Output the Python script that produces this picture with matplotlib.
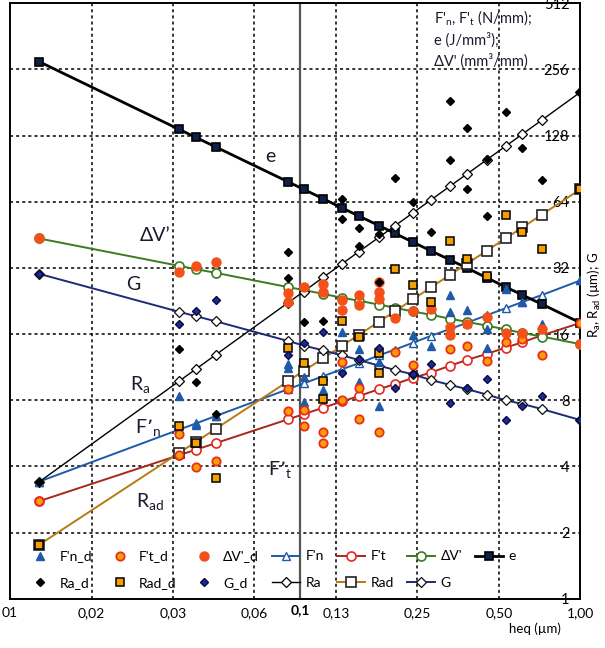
import matplotlib
matplotlib.use("Agg")
import matplotlib.pyplot as plt

plt.rcParams['font.family'] = ['Lato', 'DejaVu Sans']
plt.rcParams['mathtext.default'] = 'regular'

# x positions of the test points (heq, µm)
x_pts = [0.01, 0.033, 0.038, 0.045, 0.083, 0.095, 0.112, 0.132, 0.152, 0.18,
         0.206, 0.24, 0.28, 0.33, 0.38, 0.45, 0.53, 0.61, 0.72, 1.0]

# fitted curves
e_fit = [278, 136.5, 125.6, 113.6, 79.0, 72.9, 66.1, 59.9, 55.1, 49.9,
         46.0, 42.0, 38.3, 34.8, 32.0, 28.9, 26.2, 24.1, 21.9, 18.0]
dv_fit = [43.6, 32.7, 31.6, 30.4, 26.2, 25.4, 24.4, 23.4, 22.7, 21.8,
          21.1, 20.3, 19.6, 18.8, 18.2, 17.5, 16.8, 16.2, 15.6, 14.4]
g_fit = [30.1, 20.2, 19.3, 18.3, 14.9, 14.2, 13.5, 12.8, 12.2, 11.5,
         11.0, 10.5, 9.9, 9.4, 9.0, 8.5, 8.0, 7.7, 7.3, 6.5]
ra_fit = [3.4, 9.8, 11.1, 12.9, 22.2, 25.0, 29.0, 33.5, 38.0, 44.1,
          49.7, 56.9, 65.2, 75.5, 85.5, 99.3, 114.8, 130.0, 150.7, 202]
rad_fit = [1.76, 4.62, 5.18, 5.94, 9.75, 10.9, 12.4, 14.2, 15.9, 18.2,
           20.3, 23.0, 26.1, 29.8, 33.4, 38.3, 43.7, 48.9, 56.0, 73]
fn_fit = [3.41, 5.89, 6.28, 6.79, 8.98, 9.55, 10.3, 11.1, 11.8, 12.8,
          13.6, 14.6, 15.7, 16.9, 18.0, 19.5, 21.0, 22.4, 24.1, 28.1]
ft_fit = [2.78, 4.51, 4.77, 5.11, 6.55, 6.92, 7.40, 7.91, 8.37, 8.98,
          9.48, 10.1, 10.7, 11.5, 12.2, 13.0, 13.9, 14.7, 15.8, 18.0]

# measured points
ra_d_x = [0.01, 0.033, 0.038, 0.045, 0.083, 0.083, 0.095, 0.112, 0.132, 0.132, 0.152, 0.152, 0.18, 0.18,
          0.206, 0.24, 0.28, 0.33, 0.33, 0.38, 0.38, 0.45, 0.45, 0.53, 0.61, 0.72, 1.0]
ra_d_y = [3.4, 13.7, 9.7, 6.9, 37.9, 28.8, 18.1, 18.4, 66, 53.3, 48.4, 40.3, 45.6, 27.6,
          82.5, 64, 46.8, 184, 99, 139, 73, 55.3, 100, 164, 113, 80.4, 202]

rad_d_x = [0.01, 0.033, 0.038, 0.045, 0.083, 0.095, 0.112, 0.112, 0.132, 0.152, 0.18, 0.18,
           0.206, 0.24, 0.28, 0.33, 0.38, 0.45, 0.53, 0.61, 0.72, 1.0]
rad_d_y = [1.76, 6.1, 5.14, 3.53, 13.9, 11.8, 9.8, 8.1, 18.4, 15.5, 13.1, 10.7,
           31.8, 26.9, 22.5, 42.3, 35.3, 29.5, 55.6, 46.8, 39.2, 73]

g_d_y = [30.1, 17.7, 20.4, 22.8, 12.8, 14.6, 16.4, 10.7, 12.3, 13.8,
         9.1, 10.5, 11.7, 7.8, 9.1, 10.0, 6.5, 7.5, 8.4, 6.5]

fn_d_x = [0.01, 0.033, 0.038, 0.045, 0.083, 0.083, 0.095, 0.095, 0.112, 0.132, 0.152, 0.152, 0.18, 0.18,
          0.24, 0.28, 0.33, 0.33, 0.38, 0.45, 0.45, 0.53, 0.61, 0.72, 1.0]
fn_d_y = [3.4, 8.4, 6.2, 6.8, 11.7, 11.2, 10.2, 7.9, 8.9, 16.4, 13.7, 9.7, 7.5, 12.0,
          15.8, 14.1, 24.0, 20.1, 20.5, 16.9, 13.9, 25.8, 22.5, 17.8, 28.1]

ft_d_x = [0.01, 0.033, 0.033, 0.038, 0.045, 0.083, 0.083, 0.095, 0.095, 0.112, 0.112, 0.132, 0.132,
          0.152, 0.152, 0.18, 0.206, 0.24, 0.33, 0.38, 0.45, 0.53, 0.61, 0.72, 1.0]
ft_d_y = [2.78, 5.6, 4.53, 3.96, 4.23, 9.0, 7.15, 7.2, 6.1, 5.74, 5.1, 12.0, 8.0,
          9.1, 6.55, 5.74, 13.2, 11.6, 13.7, 14.2, 12.1, 14.7, 15.2, 12.8, 18.0]

dv_d_x = [0.01, 0.033, 0.038, 0.045, 0.083, 0.083, 0.095, 0.112, 0.112, 0.132, 0.132, 0.152, 0.152,
          0.18, 0.18, 0.18, 0.206, 0.24, 0.28, 0.33, 0.33, 0.38, 0.45, 0.53, 0.61, 0.72, 1.0]
dv_d_y = [43.6, 30.7, 32.8, 34.1, 24.5, 22.5, 26.2, 27.0, 25.0, 22.8, 20.5, 24.2, 21.8,
          27.6, 25.0, 23.2, 18.9, 20.3, 20.8, 17.2, 15.8, 17.8, 19.1, 16.2, 16.2, 16.9, 14.4]

x_ticks = [2 ** -7, 2 ** -6, 2 ** -5, 2 ** -4, 2 ** -3, 2 ** -2, 2 ** -1, 1]
x_labels = ['01', '0,02', '0,03', '0,06', '0,13', '0,25', '0,50', '1,00']
y_ticks = [1, 2, 4, 8, 16, 32, 64, 128, 256, 512]
x_ref = 0.092  # the "0,1" reference line

c_fn = '#1f5aa8'
c_ft = '#a8281c'
c_dv = '#3d7a1e'
c_g = '#1c2b78'
c_rad = '#b87a14'
txt_c = '#1a1a2e'

fig = plt.figure(figsize=(6.05, 6.48), dpi=100)
ax = fig.add_axes([10 / 605, 1 - 598.8 / 648, 570.5 / 605, 595.5 / 648])

ax.set_xscale('log', base=2)
ax.set_yscale('log', base=2)
ax.set_xlim(2 ** -7, 1)
ax.set_ylim(1, 512)

# grid
for xv in x_ticks[1:-1]:
    ax.axvline(xv, color='black', lw=1.1, ls=(0, (2, 2)), zorder=1)
for yv in y_ticks[1:-1]:
    ax.axhline(yv, color='black', lw=1.1, ls=(0, (2, 2)), zorder=1)
ax.axvline(x_ref, color='#555555', lw=1.6, zorder=1)

# fitted lines
h_fn, = ax.plot(x_pts, fn_fit, color=c_fn, lw=1.4, marker='^', ms=6, mfc='white', mec=c_fn, mew=1.0, zorder=3)
h_ft, = ax.plot(x_pts, ft_fit, color=c_ft, lw=1.4, marker='o', ms=6.5, mfc='white', mec='#e8261c', mew=1.2, zorder=3)
h_dv, = ax.plot(x_pts, dv_fit, color=c_dv, lw=1.4, marker='o', ms=6.5, mfc='white', mec=c_dv, mew=1.2, zorder=3)
h_e, = ax.plot(x_pts, e_fit, color='black', lw=2.0, marker='s', ms=5.5, mfc='#10204a', mec='black', mew=1.2, zorder=3)
h_ra, = ax.plot(x_pts, ra_fit, color='black', lw=1.0, marker='D', ms=5, mfc='white', mec='black', mew=0.9, zorder=3)
h_rad, = ax.plot(x_pts, rad_fit, color=c_rad, lw=1.4, marker='s', ms=7.5, mfc='white', mec='#222222', mew=1.2, zorder=3)
h_g, = ax.plot(x_pts, g_fit, color=c_g, lw=1.4, marker='D', ms=5, mfc='white', mec='#111111', mew=0.9, zorder=3)

# measured points
h_fn_d, = ax.plot(fn_d_x, fn_d_y, ls='none', marker='^', ms=5.5, color=c_fn, zorder=4)
h_ft_d, = ax.plot(ft_d_x, ft_d_y, ls='none', marker='o', ms=6, mfc='#f5a20a', mec='#ee2a1a', mew=1.3, zorder=4)
h_dv_d, = ax.plot(dv_d_x, dv_d_y, ls='none', marker='o', ms=6.5, mfc='#f4501a', mec='#f4501a', zorder=4)
h_ra_d, = ax.plot(ra_d_x, ra_d_y, ls='none', marker='D', ms=4.5, color='black', zorder=4)
h_rad_d, = ax.plot(rad_d_x, rad_d_y, ls='none', marker='s', ms=6, mfc='#f5a000', mec='black', mew=1.1, zorder=4)
h_g_d, = ax.plot(x_pts, g_d_y, ls='none', marker='D', ms=4.2, mfc='#1a2a9a', mec='#0a0a40', zorder=4)

# axes styling
for sp in ax.spines.values():
    sp.set_linewidth(1.4)
    sp.set_color('black')
ax.set_xticks(x_ticks)
ax.set_xticklabels(x_labels)
ax.set_xticks([x_ref], minor=True)
ax.set_xticklabels(['0,1'], minor=True, fontweight='bold')
ax.tick_params(axis='x', which='both', length=0, labelsize=10, pad=6)
ax.tick_params(axis='x', which='minor', pad=4)

ax.set_yticks(y_ticks)
ax.set_yticklabels([str(v) for v in y_ticks])
ax.yaxis.set_minor_locator(matplotlib.ticker.NullLocator())
ax.yaxis.tick_right()
ax.tick_params(axis='y', length=0, labelsize=10.5, pad=-8)
for lbl in ax.get_yticklabels():
    lbl.set_horizontalalignment('right')

# labels in the plot
lab_kw = dict(transform=ax.transAxes, fontsize=14, color=txt_c, ha='center', va='center')
ax.text(0.456, 0.743, 'e', **lab_kw)
ax.text(0.254, 0.610, 'ΔV’', **lab_kw)
ax.text(0.216, 0.527, 'G', **lab_kw)
ax.text(0.228, 0.360, 'R$_{a}$', **lab_kw)
ax.text(0.242, 0.288, 'F’$_{n}$', **lab_kw)
ax.text(0.473, 0.217, 'F’$_{t}$', **lab_kw)
ax.text(0.245, 0.163, 'R$_{ad}$', **lab_kw)

ax.text(0.744, 0.992, "F'$_{n}$, F'$_{t}$ (N/mm);\ne (J/mm³);\nΔV' (mm³/mm)", transform=ax.transAxes,
        fontsize=10.5, color=txt_c, ha='left', va='top', linespacing=1.45)

fig.text(535 / 605, 1 - 629 / 648, 'heq (µm)', fontsize=9.5, ha='center', va='center')
fig.text(594 / 605, 1 - 295 / 648, 'R$_{a}$, R$_{ad}$ (µm); G', fontsize=9.5, rotation=90, ha='center', va='center')

# legend (column-major fill -> two rows)
handles = [h_fn_d, h_ra_d, h_ft_d, h_rad_d, h_dv_d, h_g_d, h_fn, h_ra, h_ft, h_rad, h_dv, h_g, h_e]
labels = ["F'n_d", 'Ra_d', "F't_d", 'Rad_d', "ΔV'_d", 'G_d', "F'n", 'Ra', "F't", 'Rad', "ΔV'", 'G', 'e']
leg = ax.legend(handles, labels, ncol=7, loc='lower left', bbox_to_anchor=(0.012, 0.0),
                frameon=False, fontsize=10, handlelength=2.0, handletextpad=0.4,
                columnspacing=0.95, labelspacing=1.05, borderaxespad=0.3)
leg.set_zorder(5)

fig.savefig('out.png', dpi=100, facecolor='white')
